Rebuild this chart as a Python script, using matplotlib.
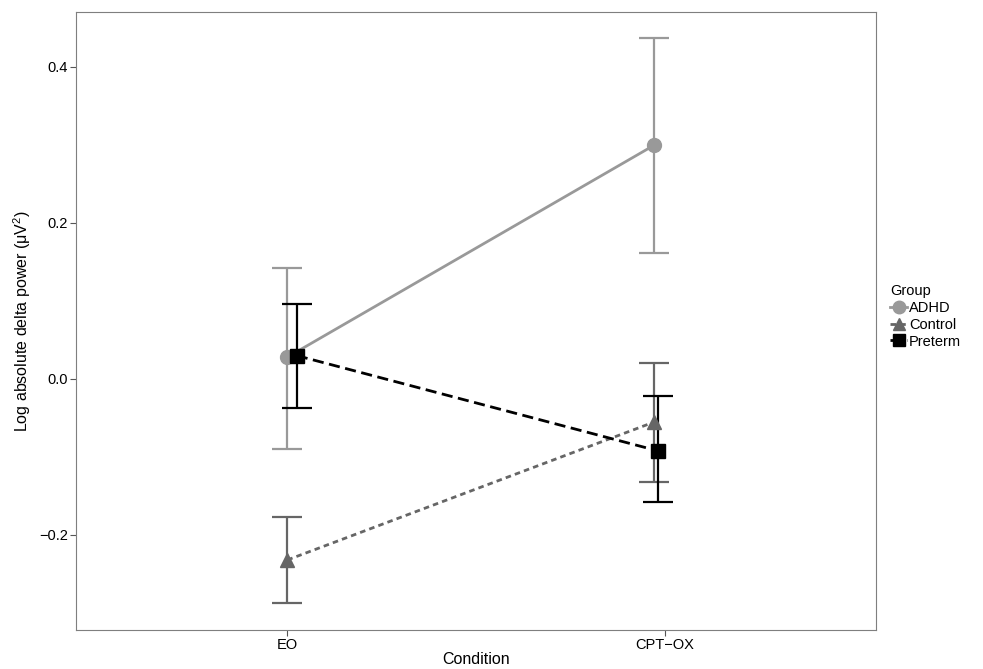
import matplotlib
matplotlib.use("Agg")
import matplotlib.pyplot as plt
from matplotlib.lines import Line2D

plt.rcParams["font.family"] = ["Liberation Sans", "DejaVu Sans"]

conditions = ["EO", "CPT\u2212OX"]
groups = ["ADHD", "Control", "Preterm"]
means = {"ADHD": [0.028, 0.300], "Control": [-0.232, -0.055], "Preterm": [0.030, -0.092]}
lower = {"ADHD": [-0.090, 0.161], "Control": [-0.287, -0.132], "Preterm": [-0.037, -0.158]}
upper = {"ADHD": [0.142, 0.437], "Control": [-0.177, 0.020], "Preterm": [0.096, -0.022]}

colors = {"ADHD": "#999999", "Control": "#666666", "Preterm": "#000000"}
markers = {"ADHD": "o", "Control": "^", "Preterm": "s"}
styles = {"ADHD": "-", "Control": (0, (2, 1.5)), "Preterm": (0, (4, 2))}
offs = {"ADHD": [0.0, -0.027], "Control": [0.0, -0.027], "Preterm": [0.025, -0.019]}

fig = plt.figure(figsize=(9.83, 6.69), dpi=100)
ax = fig.add_axes([76/983, 39/669, 800/983, 618/669])
for g in groups:
    xs = [i + 1 + o for i, o in enumerate(offs[g])]
    m = means[g]
    yerr = [[m[i] - lower[g][i] for i in range(2)], [upper[g][i] - m[i] for i in range(2)]]
    ax.errorbar(xs, m, yerr=yerr, fmt="none", ecolor=colors[g], elinewidth=1.6, capsize=11, capthick=1.6, zorder=2)
    ax.plot(xs, m, color=colors[g], linestyle=styles[g], linewidth=2, zorder=3)
    ax.plot(xs, m, color=colors[g], marker=markers[g], linestyle="none", markersize=10, zorder=4)

ax.set_xlim(0.44, 2.56)
ax.set_ylim(-0.3218, 0.4705)
ax.set_xticks([1, 2])
ax.set_xticklabels(conditions)
ax.set_yticks([-0.2, 0.0, 0.2, 0.4])
ax.set_yticklabels(["\u22120.2", "0.0", "0.2", "0.4"])
ax.tick_params(labelsize=10.5, color="#555555", length=4, pad=2)
for s in ax.spines.values():
    s.set_color("#7f7f7f")
ax.set_xlabel("Condition", fontsize=11.5, labelpad=0)
ax.set_ylabel(r"Log absolute delta power ($\mathregular{\mu V^2}$)", fontsize=11.5, labelpad=4)

handles = [Line2D([], [], color=colors[g], marker=markers[g], linestyle=styles[g], markersize=9, linewidth=2) for g in groups]
leg = fig.legend(handles, groups, title="Group", loc="upper left", bbox_to_anchor=(884/983, 1 - 278/669),
                 frameon=False, fontsize=10.5, title_fontsize=10.5, handlelength=1.2, handletextpad=0.1,
                 labelspacing=0.2, borderaxespad=0)
leg._legend_box.align = "left"
fig.savefig("out.png", dpi=100)
